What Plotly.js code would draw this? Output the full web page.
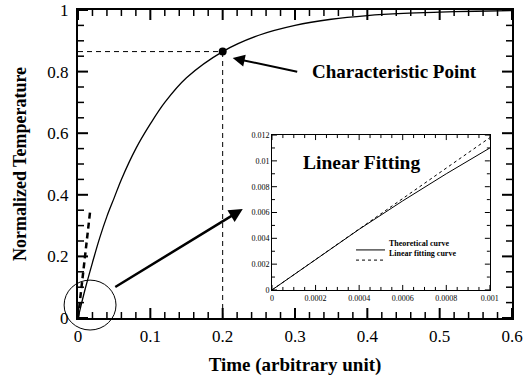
<!DOCTYPE html>
<html>
<head>
<meta charset="utf-8">
<script src="https://cdn.plot.ly/plotly-3.0.1.min.js"></script>
<style>html,body{margin:0;padding:0;background:#fff;}#chart{width:525px;height:376px;}</style>
</head>
<body>
<div id="chart"></div>
<script>
// Main curve: normalized temperature vs time
const timeVals = [0, 0.01, 0.02, 0.03, 0.04, 0.05, 0.06, 0.08, 0.1, 0.12, 0.15, 0.2, 0.25, 0.3, 0.35, 0.4, 0.45, 0.5, 0.55, 0.6];
const tempVals = [0, 0.095, 0.18, 0.26, 0.33, 0.39, 0.45, 0.55, 0.63, 0.70, 0.78, 0.865, 0.918, 0.95, 0.97, 0.982, 0.989, 0.993, 0.996, 0.998];
// Characteristic point
const charX = [0.2];
const charY = [0.865];
// Steep dashed fitting line near origin
const fitMainX = [0, 0.0167];
const fitMainY = [0, 0.345];
// Guide lines through characteristic point
const hGuideX = [0, 0.2];
const hGuideY = [0.865, 0.865];
const vGuideX = [0.2, 0.2];
const vGuideY = [0, 0.865];
// Inset data
const insetX = [0, 0.0002, 0.0004, 0.0006, 0.0008, 0.001];
const insetTheory = [0, 0.00236, 0.0047, 0.0069, 0.0090, 0.0110];
const insetFitX = [0, 0.001];
const insetFitY = [0, 0.0118];
// Tick values and labels
const mainXTicks = [0, 0.1, 0.2, 0.3, 0.4, 0.5, 0.6];
const mainYTicks = [0, 0.2, 0.4, 0.6, 0.8, 1];
const mainXMinor = [0.02, 0.04, 0.06, 0.08, 0.12, 0.14, 0.16, 0.18, 0.22, 0.24, 0.26, 0.28, 0.32, 0.34, 0.36, 0.38, 0.42, 0.44, 0.46, 0.48, 0.52, 0.54, 0.56, 0.58];
const mainYMinor = [0.05, 0.1, 0.15, 0.25, 0.3, 0.35, 0.45, 0.5, 0.55, 0.65, 0.7, 0.75, 0.85, 0.9, 0.95];
const insetXTicks = [0, 0.0002, 0.0004, 0.0006, 0.0008, 0.001];
const insetXLabels = ["0", "0.0002", "0.0004", "0.0006", "0.0008", "0.001"];
const insetXMinor = [0.00005, 0.0001, 0.00015, 0.00025, 0.0003, 0.00035, 0.00045, 0.0005, 0.00055, 0.00065, 0.0007, 0.00075, 0.00085, 0.0009, 0.00095];
const insetYTicks = [0, 0.002, 0.004, 0.006, 0.008, 0.01, 0.012];
const insetYLabels = ["0", "0.002", "0.004", "0.006", "0.008", "0.01", "0.012"];
const insetYMinor = [0.001, 0.003, 0.005, 0.007, 0.009, 0.011];
const legendNames = ["Theoretical curve", "Linear fitting curve"];

const serif = "Liberation Serif, serif";
const K = '#000000';

const traces = [
  {x: timeVals, y: tempVals, mode: 'lines', line: {color: K, width: 1.3, shape: 'spline'}, xaxis: 'x', yaxis: 'y'},
  {x: hGuideX, y: hGuideY, mode: 'lines', line: {color: K, width: 1, dash: '5px,4px'}, xaxis: 'x', yaxis: 'y'},
  {x: vGuideX, y: vGuideY, mode: 'lines', line: {color: K, width: 1, dash: '5px,4px'}, xaxis: 'x', yaxis: 'y'},
  {x: fitMainX, y: fitMainY, mode: 'lines', line: {color: K, width: 2.5, dash: '6px,4px'}, xaxis: 'x', yaxis: 'y'},
  {x: charX, y: charY, mode: 'markers', marker: {color: K, size: 8}, xaxis: 'x', yaxis: 'y'},
  {x: insetX, y: insetTheory, mode: 'lines', line: {color: K, width: 1}, xaxis: 'x2', yaxis: 'y2', name: legendNames[0]},
  {x: insetFitX, y: insetFitY, mode: 'lines', line: {color: K, width: 1, dash: 'dot'}, xaxis: 'x2', yaxis: 'y2', name: legendNames[1]}
];

// Tick marks as line markers centred on the frame; the half outside the plot is clipped,
// so each shows as an inward tick. line-ns half-length = 0.7 * size.
function tickTrace(vals, fixed, vertical, len, w, xa, ya) {
  const other = vals.map(() => fixed);
  return {
    x: vertical ? vals : other, y: vertical ? other : vals,
    mode: 'markers', cliponaxis: true, xaxis: xa, yaxis: ya, hoverinfo: 'skip',
    marker: {symbol: vertical ? 'line-ns' : 'line-ew', size: len / 0.7, color: K, line: {color: K, width: w}}
  };
}
// main frame
traces.push(tickTrace(mainXTicks, 0, true, 10, 2, 'x', 'y'));
traces.push(tickTrace(mainXTicks, 1, true, 10, 2, 'x', 'y'));
traces.push(tickTrace(mainXMinor, 0, true, 6, 1.5, 'x', 'y'));
traces.push(tickTrace(mainXMinor, 1, true, 6, 1.5, 'x', 'y'));
traces.push(tickTrace(mainYTicks, 0, false, 10, 2, 'x', 'y'));
traces.push(tickTrace(mainYTicks, 0.6, false, 10, 2, 'x', 'y'));
traces.push(tickTrace(mainYMinor, 0, false, 6, 1.5, 'x', 'y'));
traces.push(tickTrace(mainYMinor, 0.6, false, 6, 1.5, 'x', 'y'));
// inset frame
traces.push(tickTrace(insetXTicks, 0, true, 5, 1, 'x2', 'y2'));
traces.push(tickTrace(insetXTicks, 0.012, true, 5, 1, 'x2', 'y2'));
traces.push(tickTrace(insetXMinor, 0, true, 3, 1, 'x2', 'y2'));
traces.push(tickTrace(insetXMinor, 0.012, true, 3, 1, 'x2', 'y2'));
traces.push(tickTrace(insetYTicks, 0, false, 5, 1, 'x2', 'y2'));
traces.push(tickTrace(insetYTicks, 0.001, false, 5, 1, 'x2', 'y2'));
traces.push(tickTrace(insetYMinor, 0, false, 3, 1, 'x2', 'y2'));
traces.push(tickTrace(insetYMinor, 0.001, false, 3, 1, 'x2', 'y2'));

const insetDomX = [0.447, 0.949];
const insetDomY = [0.091, 0.594];

const mainAxis = {
  showgrid: false, zeroline: false, showline: true, linecolor: K, linewidth: 2,
  mirror: true, ticks: '', tickfont: {family: serif, size: 17, color: K}
};
const insetAxis = {
  showgrid: false, zeroline: false, showline: true, linecolor: K, linewidth: 1, mirror: true,
  ticks: '', tickfont: {family: serif, size: 8, color: K}
};

const layout = {
  width: 525, height: 376,
  margin: {l: 78, r: 13, t: 10, b: 58},
  paper_bgcolor: 'white', plot_bgcolor: 'white',
  showlegend: false,
  font: {family: serif, color: K},
  xaxis: Object.assign({}, mainAxis, {
    range: [0, 0.6], tickvals: mainXTicks, domain: [0, 1], anchor: 'y', ticklabelstandoff: 2,
    title: {text: '<b>Time (arbitrary unit)</b>', font: {family: serif, size: 19, color: K}, standoff: 12}
  }),
  yaxis: Object.assign({}, mainAxis, {
    range: [0, 1], tickvals: mainYTicks, domain: [0, 1], anchor: 'x', ticklabelstandoff: 4,
    title: {text: '<b>Normalized Temperature</b>', font: {family: serif, size: 18, color: K}, standoff: 16}
  }),
  xaxis2: Object.assign({}, insetAxis, {
    domain: insetDomX, anchor: 'y2', range: [0, 0.001], tickvals: insetXTicks, ticktext: insetXLabels
  }),
  yaxis2: Object.assign({}, insetAxis, {
    domain: insetDomY, anchor: 'x2', range: [0, 0.012], tickvals: insetYTicks, ticktext: insetYLabels
  }),
  shapes: [
    {type: 'circle', xref: 'paper', yref: 'paper', x0: -0.032, x1: 0.0876, y0: -0.039, y1: 0.123, line: {color: K, width: 1}},
    {type: 'line', xref: 'paper', yref: 'paper', x0: 0.6406, x1: 0.7074, y0: 0.221, y1: 0.221, line: {color: K, width: 1}},
    {type: 'line', xref: 'paper', yref: 'paper', x0: 0.6406, x1: 0.7074, y0: 0.188, y1: 0.188, line: {color: K, width: 1, dash: 'dot'}}
  ],
  annotations: [
    {x: 0.2139, y: 0.844, xref: 'x', yref: 'y', ax: 66, ay: 14, showarrow: true, arrowhead: 2, arrowsize: 1.2, arrowwidth: 2, arrowcolor: K, text: ''},
    {x: 0.2278, y: 0.354, xref: 'x', yref: 'y', ax: -129, ay: 79, showarrow: true, arrowhead: 2, arrowsize: 1.1, arrowwidth: 2.5, arrowcolor: K, text: ''},
    {x: 0.438, y: 0.799, xref: 'x', yref: 'y', showarrow: false, text: '<b>Characteristic Point</b>', font: {family: serif, size: 19, color: K}},
    {x: 0.392, y: 0.506, xref: 'x', yref: 'y', showarrow: false, text: '<b>Linear Fitting</b>', font: {family: serif, size: 19.5, color: K}},
    {x: 0.7120, y: 0.221, xref: 'paper', yref: 'paper', xanchor: 'left', showarrow: false, text: '<b>' + legendNames[0] + '</b>', font: {family: serif, size: 8, color: K}},
    {x: 0.7120, y: 0.188, xref: 'paper', yref: 'paper', xanchor: 'left', showarrow: false, text: '<b>' + legendNames[1] + '</b>', font: {family: serif, size: 8, color: K}}
  ]
};

Plotly.newPlot('chart', traces, layout, {staticPlot: true, displayModeBar: false});
</script>
</body>
</html>
